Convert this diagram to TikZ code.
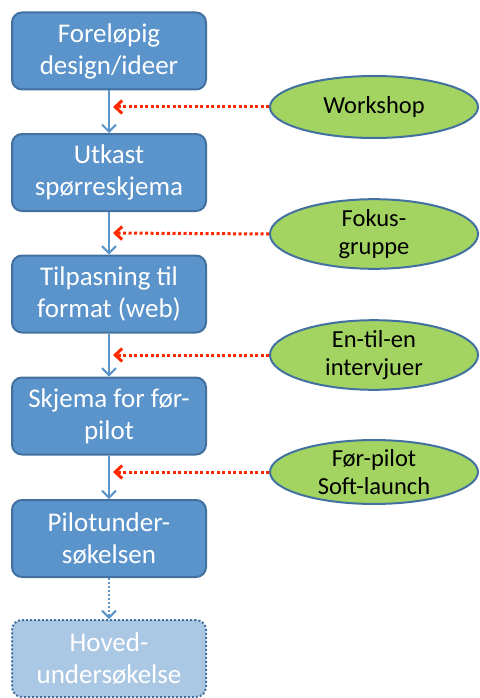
\documentclass[tikz,border=0pt]{standalone}
\usepackage{fontspec}
\setmainfont{Carlito}
\usetikzlibrary{arrows.meta,shapes.geometric}

\definecolor{stepblue}{RGB}{91,147,203}
\definecolor{stepedge}{RGB}{66,113,160}
\definecolor{stepfaint}{RGB}{170,199,228}
\definecolor{methgreen}{RGB}{163,212,98}
\definecolor{feedred}{RGB}{255,40,0}

\tikzset{
  stepbox/.style={draw=stepedge,fill=stepblue,line width=2pt,rounded corners=10pt,
    minimum width=194pt,minimum height=77pt,inner sep=0pt,align=center,text=white,
    font=\fontsize{27}{32}\selectfont},
  method/.style={ellipse,draw=stepedge,fill=methgreen,line width=2pt,
    minimum width=208pt,minimum height=62pt,inner sep=0pt,align=center,
    font=\fontsize{24.5}{28}\selectfont},
  flow/.style={draw=stepblue,line width=2pt,-{Straight Barb[length=7pt,width=14pt]}},
  feed/.style={draw=feedred,line width=3pt,dash pattern=on 3pt off 2.5pt,
    -{Straight Barb[length=7pt,width=13pt]}}
}

\begin{document}
\begin{tikzpicture}[x=1pt,y=-1pt]
  \useasboundingbox (0,0) rectangle (479,698);

  % steps of the process
  \node[stepbox] (s1) at (109,51)    {Foreløpig\\design/ideer};
  \node[stepbox] (s2) at (109,172.5) {Utkast\\spørreskjema};
  \node[stepbox] (s3) at (109,294)   {Tilpasning til\\format (web)};
  \node[stepbox] (s4) at (109,416)   {Skjema for før-\\pilot};
  \node[stepbox] (s5) at (109,538.5) {Pilotunder-\\søkelsen};
  \node[stepbox,fill=stepfaint,dash pattern=on 2pt off 2pt] (s6) at (109,658.5)
    {Hoved-\\undersøkelse};

  \foreach \a/\b in {s1/s2,s2/s3,s3/s4,s4/s5} {
    \draw[flow] (\a) -- (\b);
  }
  \draw[flow,dash pattern=on 2pt off 2pt] (s5) -- (s6);

  % methods feeding in
  \node[method] (m1) at (374,107) {Workshop};
  \node[method] (m2) at (374,234) {Fokus-\\gruppe};
  \node[method] (m3) at (374,355) {En-til-en\\intervjuer};
  \node[method] (m4) at (374,472) {Før-pilot\\Soft-launch};

  \foreach \m/\y [count=\j] in {m1/107,m2/233,m3/355,m4/472} {
    \coordinate (r\j) at (113,\y);
    \draw[feed] (\m.west) -- (r\j);
  }
\end{tikzpicture}
\end{document}
